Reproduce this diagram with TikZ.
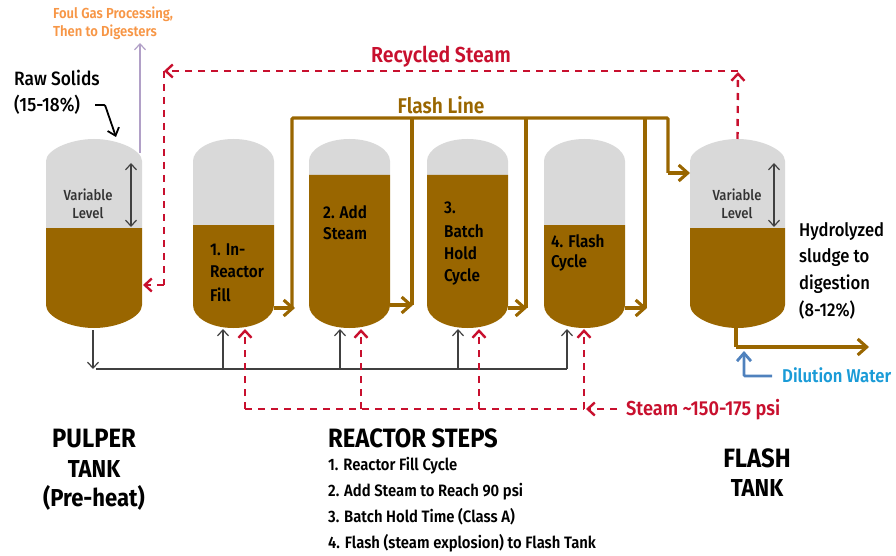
\documentclass[tikz,border=0pt]{standalone}
\usepackage{fontspec}
\setmainfont[FakeStretch=0.9,UprightFont=* Medium,BoldFont=* Bold]{Fira Sans}
\newfontfamily\semifont[FakeStretch=0.9,UprightFont=* SemiBold]{Fira Sans}
\usetikzlibrary{arrows.meta}
\definecolor{brownf}{HTML}{996600}
\definecolor{greyf}{HTML}{D9D9D9}
\definecolor{redl}{HTML}{C8102E}
\definecolor{orangel}{HTML}{F79646}
\definecolor{purplel}{HTML}{B1A0C7}
\definecolor{bluel}{HTML}{4F81BD}
\definecolor{cyanl}{HTML}{1A9BD7}
\newcommand{\tank}[4]{% x0,x1,level,name
  \fill[greyf] (#1,#3) -- (#1,161) .. controls (#1,150) and ({(#1+#2)/2-24},139) .. ({(#1+#2)/2},139) .. controls ({(#1+#2)/2+24},139) and (#2,150) .. (#2,161) -- (#2,#3) -- cycle;
  \fill[brownf] (#1,#3) -- (#1,305) .. controls (#1,317) and ({(#1+#2)/2-24},328) .. ({(#1+#2)/2},328) .. controls ({(#1+#2)/2+24},328) and (#2,317) .. (#2,305) -- (#2,#3) -- cycle;
  \coordinate (#4top) at ({(#1+#2)/2},139);
  \coordinate (#4bot) at ({(#1+#2)/2},328);
}
\tikzset{
  x=1pt,y=-1pt,
  txt/.style={inner sep=0pt,align=center,font=\fontsize{#1}{#1}\selectfont},
  txt/.default=16,
  semi/.style={inner sep=0pt,anchor=west,font=\semifont\fontsize{#1}{#1}\selectfont},
  flash/.style={draw=brownf,line width=3.1pt,rounded corners=1pt},
  flasharrow/.style={flash,-{Straight Barb[length=9pt,width=16pt,line width=3.1pt]}},
  feed/.style={draw=black!75,line width=1.2pt},
  feedarrow/.style={feed,-{Straight Barb[length=6pt,width=11pt,line width=1.2pt]}},
  steam/.style={draw=redl,line width=2.4pt,dash pattern=on 7pt off 6pt},
  steamarrow/.style={steam,-{Straight Barb[length=7pt,width=13pt,line width=2.4pt]}},
  level/.style={draw=black!75,line width=1.2pt,{Straight Barb[length=6pt,width=11pt,line width=1.2pt]}-{Straight Barb[length=6pt,width=11pt,line width=1.2pt]}},
}
\begin{document}
\begin{tikzpicture}
\useasboundingbox (0,0) rectangle (896,556);
\tank{46}{142}{228}{ta}
\tank{193}{274}{225}{tb}
\tank{309}{390}{175}{tc}
\tank{427}{508}{175}{td}
\tank{544}{625}{225}{te}
\tank{690}{785}{228}{tf}
% coordinates
\coordinate (fl0) at (292,118); \coordinate (fl1) at (668,118); \coordinate (fl2) at (668,173);
\coordinate (fb) at (412,118); \coordinate (fc) at (526,118); \coordinate (fd) at (645,118);
\coordinate (fin) at (690,173);
% flash line
\draw[flash] (292,308) -- (fl0) -- (fl1) -- (fl2);
\draw[flasharrow] (fl2) -- (fin);
\draw[flash] (fb) -- (412,305); \draw[flash] (fc) -- (526,308); \draw[flash] (fd) -- (645,308);
\draw[flasharrow] (274,308) -- (295,308);
\draw[flasharrow] (390,305) -- (413,305);
\draw[flasharrow] (508,308) -- (527,308);
\draw[flasharrow] (625,308) -- (647,308);
% feed
\coordinate (fe0) at (93,369); \coordinate (fe1) at (567,369);
\draw[feedarrow] (93,330) -- (fe0);
\draw[feed] (96,369) -- (fe1);
\draw[feedarrow] (223,369) -- (223,329);
\draw[feedarrow] (340,369) -- (340,329);
\draw[feedarrow] (458,369) -- (458,329);
\draw[feedarrow] (fe1) -- (567,329);
% steam in
\draw[steam] (245,409) -- (584,409);
\draw[steamarrow] (245,409) -- (245,329);
\draw[steamarrow] (361,409) -- (361,329);
\draw[steamarrow] (479,409) -- (479,329);
\draw[steamarrow] (584,409) -- (584,329);
\draw[steamarrow] (617,409) -- (586,409);
% recycled
\coordinate (r0) at (738,71); \coordinate (r1) at (164,71); \coordinate (r2) at (164,285);
\draw[steamarrow] (tftop) -- (738,72);
\draw[steamarrow] (r0) -- (r1);
\draw[steam] (r1) -- (r2);
\draw[steamarrow] (r2) -- (143,285);
% others
\draw[draw=purplel,line width=1.2pt,-{Straight Barb[length=6pt,width=11pt,line width=1.2pt]}] (140,153) -- (140,43);
\draw[level] (131,163) -- (131,227);
\draw[level] (774,163) -- (774,227);
\draw[draw=black,line width=1.8pt,rounded corners=1pt,-{Straight Barb[length=7pt,width=12pt,line width=1.8pt]}] (95,105) -- (105,105) -- (116,137);
\draw[flash] (736,328) -- (736,347);
\draw[flasharrow] (736,347) -- (869,347);
\draw[draw=bluel,line width=2.8pt,rounded corners=1pt,-{Straight Barb[length=8pt,width=14pt,line width=2.8pt]}] (772,376) -- (744,376) -- (744,351);
% labels
\node[semi=14.5,text=orangel] (foul1) at (53,14) {Foul Gas Processing,};
\node[semi=14.5,text=orangel] (foul2) at (53,32) {Then to Digesters};
\node[txt=19.3,anchor=west] (raw1) at (14,78) {Raw Solids};
\node[txt=19.3,anchor=west] (raw2) at (14,105) {(15-18\%)};
\node[txt=14.6,text=black!80] (var1a) at (88,195) {Variable};
\node[txt=14.6,text=black!80] (var1b) at (88,213) {Level};
\node[txt=14.6,text=black!80] (var2a) at (737,195) {Variable};
\node[txt=14.6,text=black!80] (var2b) at (737,213) {Level};
\node[semi=21.7,text=redl,anchor=center] (rec) at (441,57) {Recycled Steam};
\node[semi=21.3,text=brownf,anchor=center] (fln) at (441,105) {Flash Line};
\node[semi=17] (s1a) at (210,250) {1. In-};
\node[semi=17] (s1b) at (210,272) {Reactor};
\node[semi=17] (s1c) at (210,295) {Fill};
\node[semi=17] (s2a) at (323,212) {2. Add};
\node[semi=17] (s2b) at (323,234) {Steam};
\node[semi=17] (s3a) at (444,208) {3.};
\node[semi=17] (s3b) at (444,231) {Batch};
\node[semi=17] (s3c) at (444,253) {Hold};
\node[semi=17] (s3d) at (444,277) {Cycle};
\node[semi=17] (s4a) at (551,241) {4. Flash};
\node[semi=17] (s4b) at (551,263) {Cycle};
\node[txt=18.5,anchor=west] (hyd) at (799,232) {Hydrolyzed};
\node[txt=18.5,anchor=west] (hyd2) at (799,258) {sludge to};
\node[txt=18.5,anchor=west] (hyd3) at (799,284) {digestion};
\node[txt=18.5,anchor=west] (hyd4) at (799,310) {(8-12\%)};
\node[semi=18.5,text=cyanl] (dil) at (782,375) {Dilution Water};
\node[semi=20.2,text=redl] (st) at (626,410) {Steam \textasciitilde150-175 psi};
\node[txt=26.5] (p1) at (94,439) {\bfseries PULPER};
\node[txt=24.5] (p2) at (94,469) {\bfseries TANK};
\node[txt=24.5] (p3) at (94,498) {\bfseries (Pre-heat)};
\node[txt=26.5,anchor=west] (rs) at (328,438) {\bfseries REACTOR STEPS};
\node[semi=16.5] (l1) at (328,466) {1. Reactor Fill Cycle};
\node[semi=16.5] (l2) at (328,492) {2. Add Steam to Reach 90 psi};
\node[semi=16.5] (l3) at (328,517) {3. Batch Hold Time (Class A)};
\node[semi=16.5] (l4) at (328,543) {4. Flash (steam explosion) to Flash Tank};
\node[txt=26.5] (f1) at (757,458) {\bfseries FLASH};
\node[txt=24.5] (f2) at (757,488) {\bfseries TANK};
\end{tikzpicture}
\end{document}
